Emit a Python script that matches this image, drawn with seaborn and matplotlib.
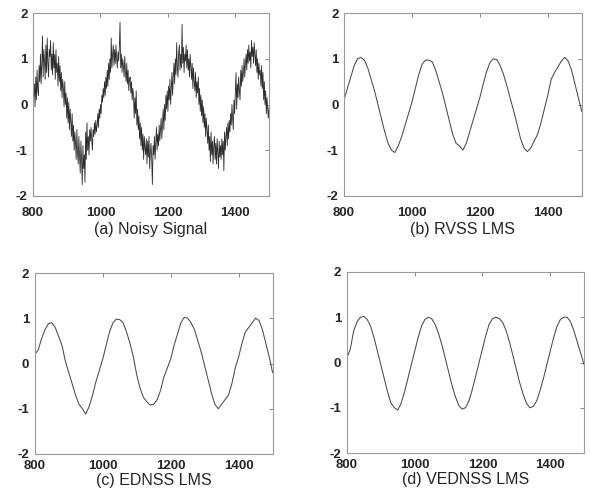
import numpy as np
import pandas as pd
import matplotlib
matplotlib.use("Agg")
import matplotlib.pyplot as plt
import seaborn as sns

# ---------------- data ----------------
t_noisy = list(range(800, 1501, 2))
noisy = [
    -0.3, 0.2, 0.45, -0.05, 0.6, 0.1, 0.75, 0.3, 0.2, 0.85,
    0.5, 1.1, 0.45, 0.9, 1.5, 0.6, 1.2, 0.95, 0.55, 1.3,
    0.7, 1.45, 0.9, 0.6, 1.2, 1.05, 1.4, 0.75, 1.1, 0.65,
    1.35, 0.8, 1.1, 0.55, 1.2, 0.7, 0.9, 0.4, 1.05, 0.5,
    0.85, 0.3, 0.7, 0.15, 0.55, 0.35, -0.05, 0.5, 0.0, 0.25,
    -0.3, 0.15, -0.4, 0.05, -0.55, -0.1, -0.35, -0.7, -0.2, -0.8,
    -0.45, -1.0, -0.6, -0.85, -1.2, -0.55, -1.05, -1.3, -0.7, -1.15,
    -1.5, -0.8, -1.2, -1.75, -0.9, -1.4, -1.1, -1.7, -0.6, -1.2,
    -0.4, -1.0, -0.7, -1.1, -0.55, -0.8, -0.5, -0.75, -1.0, -0.55,
    -0.7, -0.4, -0.65, -0.35, -0.6, -0.45, -0.2, -0.5, -0.1, -0.3,
    0.0, -0.2, 0.2, 0.05, 0.35, 0.15, 0.5, 0.2, 0.6, 0.35,
    0.75, 0.4, 0.9, 0.55, 1.0, 0.7, 1.45, 0.8, 1.1, 1.3,
    0.85, 1.2, 0.9, 1.3, 1.0, 0.8, 1.15, 0.95, 1.25, 1.8,
    0.8, 1.1, 0.7, 1.0, 0.85, 0.6, 1.05, 0.7, 0.5, 0.9,
    0.45, 0.75, 0.3, 0.55, 0.6, 0.25, 0.5, 0.1, 0.35, 0.2,
    -0.3, 0.15, -0.2, 0.3, -0.45, -0.1, -0.55, -0.25, -0.75, -0.4,
    -0.9, -0.5, -1.0, -0.65, -1.2, -0.7, -0.95, -1.1, -0.75, -1.3,
    -0.8, -1.15, -0.7, -1.4, -1.05, -0.85, -1.2, -1.75, -0.9, -1.1,
    -0.7, -1.2, -0.85, -0.5, -1.0, -0.65, -0.9, -0.45, -0.8, -0.55,
    -0.3, -0.75, -0.4, -0.1, -0.55, 0.0, -0.35, 0.2, -0.1, 0.3,
    -0.15, 0.4, 0.1, 0.55, 0.0, 0.35, 0.7, 0.2, 0.6, 0.9,
    0.45, 1.0, 0.65, 1.35, 0.8, 0.6, 1.15, 1.3, 0.75, 1.1,
    0.8, 1.75, 0.9, 1.25, 0.7, 1.1, 0.95, 1.3, 0.8, 1.2,
    0.75, 1.0, 0.6, 1.1, 0.85, 0.55, 0.9, 0.35, 0.8, 0.5,
    0.3, 0.7, 0.15, 0.5, 0.25, 0.6, 0.0, 0.35, -0.15, 0.2,
    -0.25, 0.1, -0.4, -0.05, -0.5, -0.2, -0.7, -0.3, -0.55, -0.85,
    -0.45, -1.0, -0.7, -1.25, -0.6, -1.1, -0.8, -1.3, -0.9, -0.7,
    -1.2, -0.85, -1.3, -0.75, -1.05, -1.4, -0.8, -1.15, -0.9, -1.2,
    -0.75, -1.1, -0.8, -1.45, -0.6, -1.0, -0.7, -0.5, -0.9, -0.4,
    -0.75, -0.35, -0.6, -0.2, -0.45, 0.0, -0.3, -0.55, 0.1, -0.2,
    0.25, 0.7, -0.1, 0.45, 0.15, 0.6, 0.3, 0.1, 0.75, 0.4,
    0.85, 0.5, 0.7, 1.0, 0.6, 0.9, 1.1, 0.75, 1.2, 0.9,
    1.3, 0.95, 1.15, 0.8, 1.4, 1.05, 1.25, 0.9, 1.35, 1.1,
    0.85, 1.2, 0.7, 1.0, 0.55, 0.9, 0.65, 0.75, 0.4, 0.85,
    0.35, 0.7, 0.1, 0.5, 0.0, 0.3, -0.2, 0.15, -0.1, -0.3,
    -0.05,
]

t_smooth = list(range(800, 1501, 10))
rvss = [
    0.1, 0.35, 0.6, 0.85, 1.0, 1.03, 0.97, 0.8, 0.55, 0.3,
    0.0, -0.3, -0.6, -0.85, -1.0, -1.05, -0.9, -0.7, -0.45, -0.2,
    0.05, 0.35, 0.65, 0.88, 0.97, 0.97, 0.93, 0.75, 0.5, 0.25,
    -0.05, -0.35, -0.65, -0.85, -0.9, -1.0, -0.85, -0.6, -0.35, -0.1,
    0.15, 0.45, 0.72, 0.92, 1.0, 0.98, 0.85, 0.65, 0.4, 0.12,
    -0.15, -0.45, -0.75, -0.95, -1.03, -0.95, -0.8, -0.65, -0.4, -0.1,
    0.2, 0.55, 0.7, 0.82, 0.95, 1.03, 0.95, 0.75, 0.45, 0.15,
    -0.15,
]
ednss = [
    0.2, 0.3, 0.55, 0.75, 0.88, 0.9, 0.8, 0.6, 0.4, 0.05,
    -0.2, -0.45, -0.7, -0.9, -1.0, -1.12, -0.95, -0.7, -0.4, -0.15,
    0.1, 0.4, 0.7, 0.9, 0.98, 0.97, 0.9, 0.7, 0.45, 0.15,
    -0.25, -0.55, -0.75, -0.85, -0.92, -0.9, -0.8, -0.6, -0.3, -0.1,
    0.1, 0.4, 0.65, 0.9, 1.02, 1.0, 0.9, 0.75, 0.5, 0.25,
    -0.05, -0.35, -0.65, -0.9, -1.0, -0.9, -0.8, -0.7, -0.45, -0.1,
    0.15, 0.45, 0.7, 0.8, 0.9, 1.0, 0.95, 0.75, 0.45, 0.15,
    -0.2,
]
vednss = [
    0.1, 0.3, 0.7, 0.9, 1.0, 1.02, 0.95, 0.8, 0.55, 0.25,
    -0.05, -0.35, -0.65, -0.9, -1.0, -1.05, -0.9, -0.65, -0.35, -0.05,
    0.25, 0.55, 0.8, 0.95, 1.0, 0.97, 0.85, 0.65, 0.4, 0.1,
    -0.2, -0.5, -0.75, -0.95, -1.03, -1.0, -0.85, -0.6, -0.3, 0.0,
    0.3, 0.6, 0.85, 0.97, 1.0, 0.97, 0.88, 0.7, 0.45, 0.15,
    -0.15, -0.45, -0.7, -0.9, -1.0, -0.97, -0.85, -0.62, -0.35, -0.05,
    0.25, 0.55, 0.8, 0.95, 1.0, 1.0, 0.9, 0.7, 0.45, 0.2,
    -0.05,
]

titles = ["(a) Noisy Signal", "(b) RVSS LMS", "(c) EDNSS LMS", "(d) VEDNSS LMS"]
x_ticks = [800, 1000, 1200, 1400]
y_ticks = [-2, -1, 0, 1, 2]

# ---------------- plotting ----------------
sns.set_style("white")
plt.rcParams["font.family"] = ["Liberation Sans", "DejaVu Sans"]

fig = plt.figure(figsize=(5.9, 5.0), dpi=100)
positions = [
    [0.056, 0.608, 0.400, 0.366],
    [0.583, 0.608, 0.403, 0.366],
    [0.059, 0.092, 0.403, 0.362],
    [0.588, 0.094, 0.402, 0.362],
]
series = [(t_noisy, noisy), (t_smooth, rvss), (t_smooth, ednss), (t_smooth, vednss)]

for i, (pos, (tx, ty), title) in enumerate(zip(positions, series, titles)):
    ax = fig.add_axes(pos)
    df = pd.DataFrame({"n": tx, "v": ty})
    if i == 0:
        sns.lineplot(data=df, x="n", y="v", ax=ax, color="#2e2e2e",
                     linewidth=0.6, sort=False, estimator=None)
    else:
        sns.lineplot(data=df, x="n", y="v", ax=ax, color="#4a4a4a",
                     linewidth=0.75, sort=False, estimator=None)
    ax.set_xlim(800, 1500)
    ax.set_ylim(-2, 2)
    ax.set_xticks(x_ticks)
    ax.set_yticks(y_ticks)
    ax.set_xticklabels([str(v) for v in x_ticks], fontsize=9.5, fontweight="bold")
    ax.set_yticklabels([str(v) for v in y_ticks], fontsize=9.5, fontweight="bold")
    ax.tick_params(direction="in", length=3, width=0.6, color="#777",
                   top=True, right=True)
    top_row = i < 2
    ax.tick_params(axis="x", pad=8 if top_row else 4)
    ax.tick_params(axis="y", pad=4)
    for sp in ax.spines.values():
        sp.set_color("#999999")
        sp.set_linewidth(0.8)
    ax.set_xlabel(title, fontsize=11.5, labelpad=2 if top_row else 1)
    ax.set_ylabel("")

fig.savefig("out.png", dpi=100)
